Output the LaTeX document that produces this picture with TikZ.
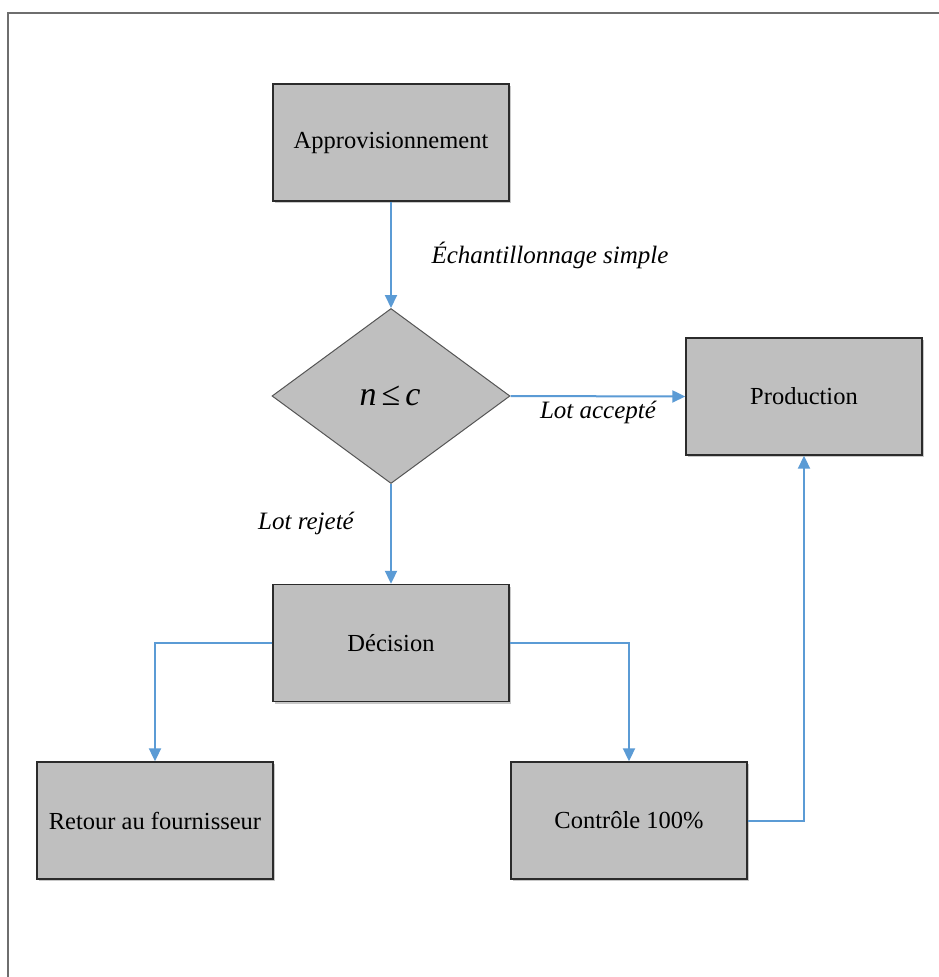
\documentclass[tikz,border=0pt]{standalone}
\usepackage{fontspec}
\setmainfont{Liberation Serif}
\usetikzlibrary{arrows.meta,shapes.geometric,shadows}
\definecolor{boxfill}{HTML}{BFBFBF}
\definecolor{boxline}{HTML}{2B2B2B}
\definecolor{arrowblue}{HTML}{5B9BD5}
\definecolor{framegray}{HTML}{6E6E6E}
\tikzset{
  stepbox/.style={draw=boxline, fill=boxfill, line width=1.4pt, minimum width=236pt, minimum height=117pt, inner sep=0pt, font=\fontsize{24.5}{28}\selectfont,
    drop shadow={shadow xshift=1.5pt, shadow yshift=-2pt, fill=black!30, opacity=0.7}},
  decbox/.style={draw=boxline!80, fill=boxfill, line width=1pt, diamond, aspect=1.36, minimum width=238pt, minimum height=175pt, inner sep=0pt},
  flow/.style={draw=arrowblue, line width=2pt, -{Triangle[length=13pt,width=12pt]}},
  lbl/.style={font=\itshape\fontsize{25}{29}\selectfont, inner sep=0pt}
}
\begin{document}
\begin{tikzpicture}[x=1pt,y=-1pt]
\useasboundingbox (0,0) rectangle (938,977);
\fill[white] (0,0) rectangle (938,977);
\draw[framegray, line width=2pt] (8,1000) -- (8,13) -- (960,13);
\node[stepbox] (appro) at (391,142.5) {Approvisionnement};
\node[decbox] (test) at (391,396) {};
\node[font=\fontsize{34}{38}\selectfont, inner sep=0pt] (cond) at (390,396) {\textit{n}\kern5pt≤\kern5pt\textit{c}};
\node[stepbox] (prod) at (804,396.5) {Production};
\node[stepbox] (dec) at (391,643) {Décision};
\node[stepbox] (ret) at (155,820.5) {Retour au fournisseur};
\node[stepbox] (ctrl) at (629,820.5) {Contrôle 100\%};
\draw[flow] (appro.south) -- (test.north);
\node[lbl] (l1) at (550,255) {Échantillonnage simple};
\draw[flow] (test.east) -- (prod.west);
\node[lbl] (l2) at (598,412) {Lot accepté};
\draw[flow] (test.south) -- (dec.north);
\node[lbl] (l3) at (306,523) {Lot rejeté};
\draw[flow] (dec.west) -| (ret.north);
\draw[flow] (dec.east) -| (ctrl.north);
\draw[flow] (ctrl.east) -| (prod.south);
\end{tikzpicture}
\end{document}
